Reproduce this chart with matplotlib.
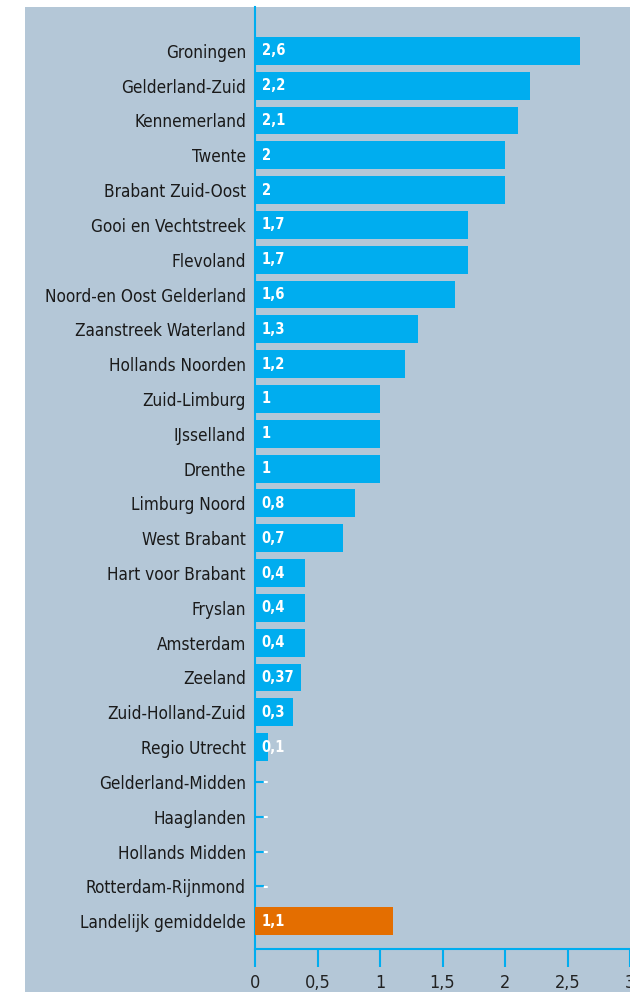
import matplotlib
matplotlib.use('Agg')
import matplotlib.pyplot as plt
from matplotlib.patches import Rectangle

regions = ['Groningen', 'Gelderland-Zuid', 'Kennemerland', 'Twente', 'Brabant Zuid-Oost',
           'Gooi en Vechtstreek', 'Flevoland', 'Noord-en Oost Gelderland', 'Zaanstreek Waterland',
           'Hollands Noorden', 'Zuid-Limburg', 'IJsselland', 'Drenthe', 'Limburg Noord',
           'West Brabant', 'Hart voor Brabant', 'Fryslan', 'Amsterdam', 'Zeeland',
           'Zuid-Holland-Zuid', 'Regio Utrecht', 'Gelderland-Midden', 'Haaglanden',
           'Hollands Midden', 'Rotterdam-Rijnmond', 'Landelijk gemiddelde']
values = [2.6, 2.2, 2.1, 2.0, 2.0, 1.7, 1.7, 1.6, 1.3, 1.2, 1.0, 1.0, 1.0, 0.8, 0.7,
          0.4, 0.4, 0.4, 0.37, 0.3, 0.1, 0, 0, 0, 0, 1.1]
xticks = [0, 0.5, 1, 1.5, 2, 2.5, 3]

bg = '#b4c7d7'
blue = '#00adef'
orange = '#e46e00'

fig = plt.figure(figsize=(6.3, 9.92), dpi=100)
fig.patch.set_facecolor('white')
# grijsblauwe achtergrond, met witte rand links en boven
fig.patches.append(Rectangle((25 / 630, 0), 1, (992 - 7) / 992, transform=fig.transFigure,
                             facecolor=bg, edgecolor='none', zorder=-5))

ax = fig.add_axes([255 / 630, 43 / 992, 375 / 630, (949 - 7) / 992])
ax.set_facecolor('none')

colors = [blue] * (len(values) - 1) + [orange]
pos = list(range(len(values)))
ax.barh(pos, values, height=0.8, color=colors, zorder=3)

for i, v in enumerate(values):
    txt = '-' if v == 0 else f'{v:g}'.replace('.', ',')
    ax.text(0.055, i, txt, color='white', fontsize=10.5, fontweight='bold',
            family='DejaVu Sans', stretch='condensed', va='center', ha='left', zorder=4)

ax.set_xlim(0, 3)
ax.set_ylim(25.8, -1.26)
ax.set_yticks(pos)
ax.set_yticklabels(regions, fontsize=12.3, family='DejaVu Sans', stretch='condensed',
                   color='#1a1a1a')
ax.set_xticks(xticks)
ax.set_xticklabels([f'{t:g}'.replace('.', ',') for t in xticks], fontsize=13,
                   family='DejaVu Sans', stretch='condensed', color='#222222')

ax.tick_params(axis='y', direction='in', length=6.5, width=1.5, color=blue, pad=6.5)
ax.tick_params(axis='x', direction='out', length=13, width=1.5, color=blue, pad=5)

for s in ['top', 'right']:
    ax.spines[s].set_visible(False)
for s in ['left', 'bottom']:
    ax.spines[s].set_color(blue)
    ax.spines[s].set_linewidth(1.5)

plt.savefig('out.png', dpi=100)
